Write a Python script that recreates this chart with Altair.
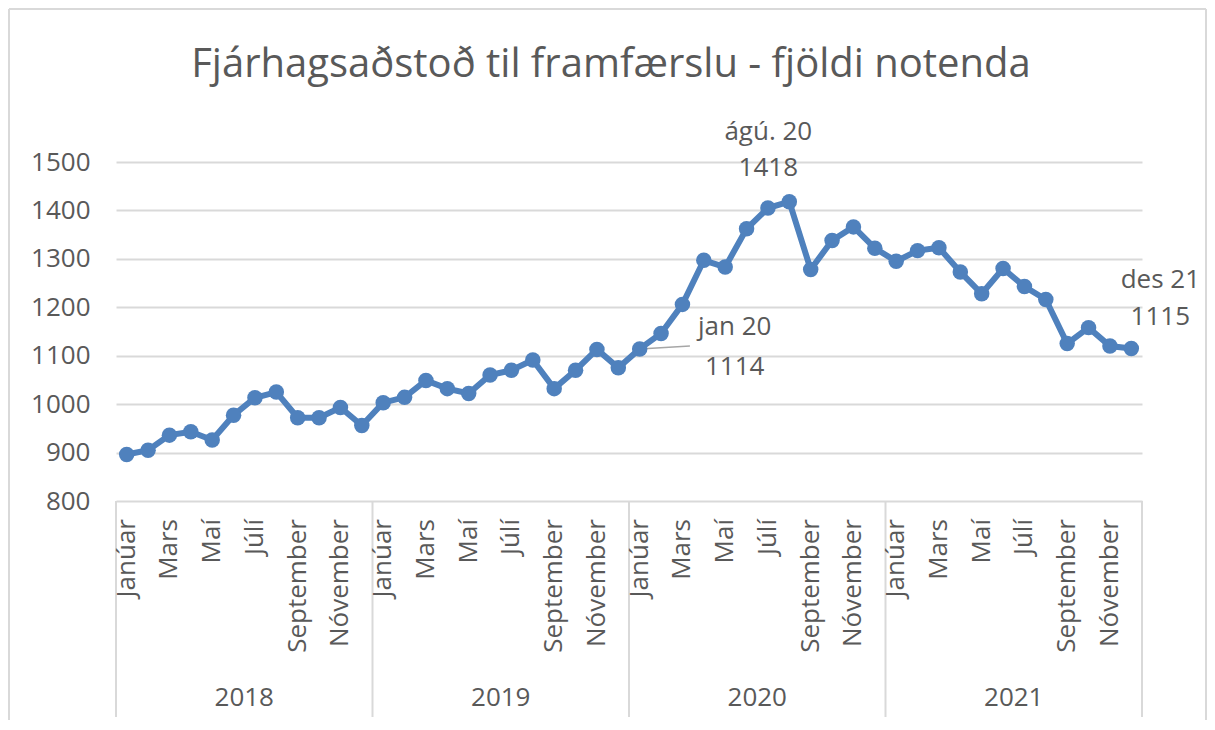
import altair as alt
import pandas as pd

# ---- data ----
title_text = "Fjárhagsaðstoð til framfærslu - fjöldi notenda"
years = ["2018", "2019", "2020", "2021"]
months = ["Janúar", "Febrúar", "Mars", "Apríl", "Maí", "Júní", "Júlí",
          "Ágúst", "September", "Október", "Nóvember", "Desember"]
values_2018 = [896, 905, 936, 943, 926, 977, 1013, 1025, 972, 972, 993, 956]
values_2019 = [1003, 1014, 1049, 1032, 1022, 1060, 1070, 1091, 1032, 1070, 1113, 1075]
values_2020 = [1114, 1146, 1206, 1297, 1283, 1362, 1405, 1418, 1278, 1338, 1366, 1322]
values_2021 = [1295, 1317, 1323, 1273, 1228, 1280, 1243, 1216, 1125, 1158, 1120, 1115]
y_ticks = [800, 900, 1000, 1100, 1200, 1300, 1400, 1500]

# annotations: (index in series, first line, second line)
ann_idx = [24, 31, 47]
ann_line1 = ["jan 20", "ágú. 20", "des 21"]
ann_line2 = ["1114", "1418", "1115"]

# ---- build tables ----
all_vals = values_2018 + values_2019 + values_2020 + values_2021
rows = []
for i, v in enumerate(all_vals):
    rows.append({"pos": i + 0.5, "val": v, "year": years[i // 12],
                 "month": months[i % 12]})
df = pd.DataFrame(rows)

month_df = df[[m in ("Janúar", "Mars", "Maí", "Júlí", "September", "Nóvember")
               for m in df["month"]]].reset_index(drop=True)
year_df = pd.DataFrame({"pos": [6 + 12 * k for k in range(4)], "year": years})
sep_df = pd.DataFrame({"pos": [0, 12, 24, 36, 48]})
title_df = pd.DataFrame({"t": [title_text]})

leader_df = pd.DataFrame({"pos": [24.5], "val": [all_vals[24]],
                          "pos2": [26.85], "val2": [1120]})

FONT = "Open Sans"
GREY = "#595959"
BLUE = "#4f81bd"
LIGHT = "#d9d9d9"
W, H = 1026, 339

xs = alt.Scale(domain=[0, 48], nice=False, zero=False)
ys = alt.Scale(domain=[800, 1500], nice=False, zero=False)
yaxis = alt.Axis(values=y_ticks, grid=True, gridColor=LIGHT, format="d",
                 gridWidth=2, domain=False, ticks=False, title=None,
                 labelFont=FONT, labelFontSize=26, labelColor=GREY,
                 labelPadding=26)


def X(field="pos:Q"):
    return alt.X(field, scale=xs, axis=None)


def Y(field="val:Q"):
    return alt.Y(field, scale=ys, axis=yaxis)


base = alt.Chart(df)

line = base.mark_line(color=BLUE, strokeWidth=6).encode(x=X(), y=Y())
pts = base.mark_circle(color=BLUE, size=240, opacity=1).encode(x=X(), y=Y())

leader = alt.Chart(leader_df).mark_rule(color="#a6a6a6", strokeWidth=1.5).encode(
    x=X(), y=Y(), x2="pos2:Q", y2="val2:Q")

seps = alt.Chart(sep_df).mark_rule(color=LIGHT, strokeWidth=2).encode(
    x=X(), y=alt.value(H), y2=alt.value(H + 216))

month_txt = alt.Chart(month_df).mark_text(
    angle=270, align="right", baseline="middle", font=FONT, fontSize=26,
    color=GREY).encode(x=X(), y=alt.value(H + 18), text="month:N")

year_txt = alt.Chart(year_df).mark_text(
    align="center", baseline="alphabetic", font=FONT, fontSize=26,
    color=GREY).encode(x=X(), y=alt.value(H + 205), text="year:N")

title = alt.Chart(title_df).mark_text(
    align="center", baseline="alphabetic", font=FONT, fontSize=40,
    color=GREY).encode(x=alt.value(495), y=alt.value(-85), text="t:N")

# outer chart frame (light grey, like the spreadsheet chart border)
frame_l = alt.Chart(title_df).mark_rule(color=LIGHT, strokeWidth=2).encode(
    x=alt.value(-107), y=alt.value(-153), y2=alt.value(H + 230))
frame_t = alt.Chart(title_df).mark_rule(color=LIGHT, strokeWidth=2).encode(
    x=alt.value(-107), x2=alt.value(1090), y=alt.value(-153))
frame_r = alt.Chart(title_df).mark_rule(color=LIGHT, strokeWidth=2).encode(
    x=alt.value(1090), y=alt.value(-153), y2=alt.value(H + 230))

ann_offsets = [(95, -14, 26), (-21, -62, -26), (29, -60, -23)]
ann_layers = []
for k, i in enumerate(ann_idx):
    adf = pd.DataFrame({"pos": [i + 0.5], "val": [all_vals[i]],
                        "l1": [ann_line1[k]], "l2": [ann_line2[k]]})
    dx, dy1, dy2 = ann_offsets[k]
    for col, dy in (("l1", dy1), ("l2", dy2)):
        ann_layers.append(
            alt.Chart(adf).mark_text(align="center", baseline="alphabetic",
                                     font=FONT, fontSize=26, color=GREY,
                                     dx=dx, dy=dy).encode(
                x=X(), y=Y(), text=f"{col}:N"))

chart = alt.layer(
    line, seps, leader, pts, month_txt, year_txt, *ann_layers,
    title, frame_l, frame_t, frame_r,
).properties(
    width=W, height=H,
    autosize=alt.AutoSizeParams(type="none"),
    padding={"left": 108, "top": 154, "right": 65, "bottom": 219},
).configure_view(stroke=None)

chart.save("out.html", embed_options={"renderer": "svg", "actions": False})
